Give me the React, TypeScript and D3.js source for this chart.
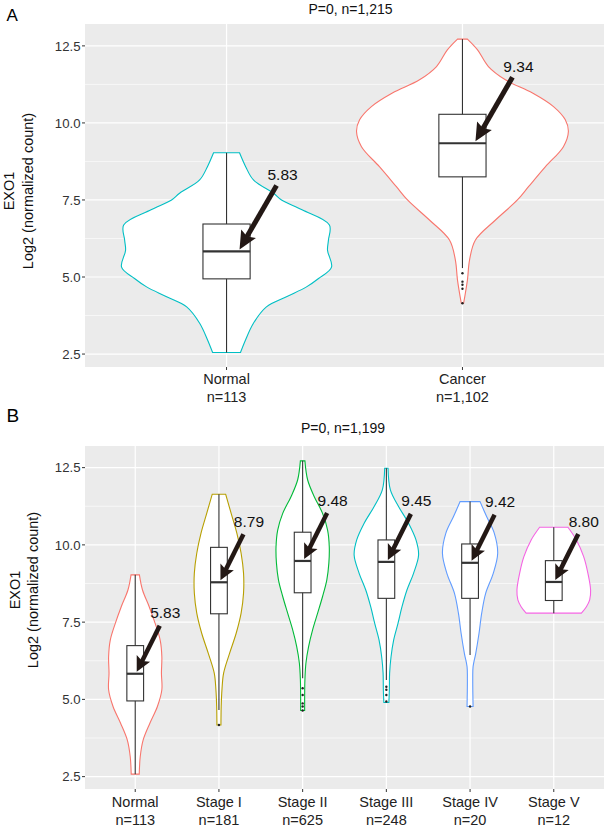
import React from "react";
import * as d3 from "d3";

// ---------- Panel A data ----------
const TOP_CATEGORIES = ["Normal", "Cancer"];
const TOP_COUNTS = ["n=113", "n=1,102"];
const TOP_COLORS = ["#00BFC4", "#F8766D"];
const TOP_MEDIANS = [5.83, 9.34];
const TOP_Q1 = [4.94, 8.25];
const TOP_Q3 = [6.72, 10.28];
const TOP_LOWER = [2.55, 5.29];
const TOP_UPPER = [9.03, 12.72];
const TOP_OUTLIERS: number[][] = [[], [5.12, 4.85, 4.75, 4.62, 4.15]];
// [value, half width as fraction of category step]
const TOP_VIOLIN_NORMAL: [number, number][] = [
  [9.03, 0.055], [8.58, 0.081], [8.15, 0.114], [7.72, 0.199], [7.5, 0.233],
  [7.18, 0.32], [6.69, 0.436], [6.2, 0.432], [5.87, 0.428], [5.32, 0.445],
  [4.95, 0.39], [4.68, 0.339], [4.36, 0.254], [4.03, 0.169], [3.5, 0.114],
  [2.95, 0.08], [2.55, 0.059],
];
const TOP_VIOLIN_CANCER: [number, number][] = [
  [12.72, 0.021], [12.37, 0.064], [11.83, 0.11], [11.4, 0.182], [10.97, 0.297],
  [10.53, 0.386], [10.1, 0.436], [9.72, 0.449], [9.23, 0.428], [8.58, 0.352],
  [7.93, 0.28], [7.5, 0.233], [6.85, 0.14], [6.2, 0.055], [5.55, 0.03],
  [4.9, 0.021], [4.15, 0.005],
];
const TOP_VIOLINS = [TOP_VIOLIN_NORMAL, TOP_VIOLIN_CANCER];

// ---------- Panel B data ----------
const BOT_CATEGORIES = ["Normal", "Stage I", "Stage II", "Stage III", "Stage IV", "Stage V"];
const BOT_COUNTS = ["n=113", "n=181", "n=625", "n=248", "n=20", "n=12"];
const BOT_COLORS = ["#F8766D", "#B79F00", "#00BA38", "#00BFC4", "#619CFF", "#F564E3"];
const BOT_MEDIANS = [5.83, 8.79, 9.48, 9.45, 9.42, 8.8];
const BOT_Q1 = [4.95, 7.77, 8.45, 8.27, 8.27, 8.2];
const BOT_Q3 = [6.74, 9.92, 10.41, 10.16, 10.03, 9.49];
const BOT_LOWER = [2.58, 4.66, 5.68, 5.63, 6.44, 7.79];
const BOT_UPPER = [9.03, 11.64, 12.72, 12.48, 11.4, 10.57];
const BOT_OUTLIERS: number[][] = [
  [], [4.17], [5.36, 5.14, 4.87, 4.77, 4.64], [5.41, 5.31, 5.14, 4.93], [4.77], [],
];
const BOT_VIOLIN_NORMAL: [number, number][] = [
  [9.03, 0.05], [8.54, 0.087], [8.0, 0.167], [7.46, 0.238], [6.92, 0.298],
  [6.38, 0.318], [5.85, 0.313], [5.31, 0.318], [4.77, 0.265], [4.23, 0.175],
  [3.69, 0.095], [3.15, 0.06], [2.58, 0.048],
];
const BOT_VIOLIN_STAGE1: [number, number][] = [
  [11.64, 0.08], [11.02, 0.146], [10.38, 0.214], [9.73, 0.265], [9.08, 0.294],
  [8.44, 0.294], [7.79, 0.265], [7.14, 0.206], [6.49, 0.127], [5.85, 0.056],
  [5.31, 0.036], [4.77, 0.027], [4.17, 0.024],
];
const BOT_VIOLIN_STAGE2: [number, number][] = [
  [12.72, 0.027], [12.1, 0.06], [11.56, 0.139], [11.02, 0.238], [10.48, 0.298],
  [9.94, 0.318], [9.41, 0.313], [8.87, 0.289], [8.33, 0.238], [7.79, 0.179],
  [7.25, 0.119], [6.71, 0.071], [6.17, 0.039], [5.63, 0.027], [5.09, 0.024],
  [4.64, 0.024],
];
const BOT_VIOLIN_STAGE3: [number, number][] = [
  [12.48, 0.02], [11.78, 0.048], [11.24, 0.146], [10.7, 0.265], [10.16, 0.354],
  [9.67, 0.385], [9.08, 0.325], [8.54, 0.246], [8.0, 0.187], [7.46, 0.139],
  [6.92, 0.087], [6.38, 0.056], [5.85, 0.039], [5.31, 0.036], [4.9, 0.03],
];
const BOT_VIOLIN_STAGE4: [number, number][] = [
  [11.4, 0.119], [10.91, 0.199], [10.38, 0.289], [9.73, 0.33], [9.08, 0.277],
  [8.44, 0.187], [7.79, 0.139], [7.14, 0.107], [6.49, 0.068], [6.06, 0.036],
  [5.63, 0.032], [4.77, 0.036],
];
const BOT_VIOLIN_STAGE5: [number, number][] = [
  [10.57, 0.169], [10.16, 0.27], [9.62, 0.357], [9.08, 0.408], [8.54, 0.44],
  [8.22, 0.429], [8.0, 0.39], [7.79, 0.33],
];
const BOT_VIOLINS = [
  BOT_VIOLIN_NORMAL, BOT_VIOLIN_STAGE1, BOT_VIOLIN_STAGE2,
  BOT_VIOLIN_STAGE3, BOT_VIOLIN_STAGE4, BOT_VIOLIN_STAGE5,
];

// ---------- axes ----------
const Y_MAJOR = [2.5, 5, 7.5, 10, 12.5];
const Y_MAJOR_LABELS = ["2.5", "5.0", "7.5", "10.0", "12.5"];
const Y_MINOR = [3.75, 6.25, 8.75, 11.25];

const FONT = "'Liberation Sans', Arial, Helvetica, sans-serif";
const ARROW_COLOR = "#231815";
const BOX_COLOR = "#333333";

type PanelProps = {
  cats: string[]; counts: string[]; colors: string[];
  med: number[]; q1: number[]; q3: number[]; lo: number[]; hi: number[];
  outs: number[][]; violins: [number, number][][];
  top: number; bottom: number; domain: [number, number];
  title: string; titleX: number; titleY: number;
  letter: string; letterY: number; letterSize: number;
  yt1X: number; yt2X: number; ytCY: number;
  xl1Y: number; xl2Y: number;
  arrow: { tipDx: number; tipDy: number; tailDx: number; tailDy: number; labDx: number; labDy: number; headLen: number; headHalf: number; width: number };
};

function Panel(p: PanelProps) {
  const left = 85, right = 604;
  const x = d3.scalePoint<string>().domain(p.cats).range([left, right]).padding(0.6);
  const step = x.step();
  const y = d3.scaleLinear().domain(p.domain).range([p.bottom, p.top]);
  const a = p.arrow;

  return (
    <g>
      <rect x={left} y={p.top} width={right - left} height={p.bottom - p.top} fill="#EBEBEB" />
      {Y_MINOR.map((v) => (
        <line key={"mi" + v} x1={left} x2={right} y1={y(v)} y2={y(v)} stroke="#fff" strokeWidth={0.6} />
      ))}
      {Y_MAJOR.map((v) => (
        <line key={"ma" + v} x1={left} x2={right} y1={y(v)} y2={y(v)} stroke="#fff" strokeWidth={1.2} />
      ))}
      {p.cats.map((c) => (
        <line key={"vg" + c} x1={x(c)} x2={x(c)} y1={p.top} y2={p.bottom} stroke="#fff" strokeWidth={1.2} />
      ))}
      {p.cats.map((c, i) => {
        const cx = x(c)!;
        const area = d3
          .area<[number, number]>()
          .y((d) => y(d[0]))
          .x0((d) => cx - d[1] * step)
          .x1((d) => cx + d[1] * step)
          .curve(d3.curveCatmullRom.alpha(0.5));
        return (
          <path key={"vi" + c} d={area(p.violins[i]) || ""} fill="#fff" stroke={p.colors[i]} strokeWidth={1.1} />
        );
      })}
      {p.cats.map((c, i) => {
        const cx = x(c)!;
        const hw = step * 0.1;
        return (
          <g key={"bx" + c}>
            <line x1={cx} x2={cx} y1={y(p.lo[i])} y2={y(p.hi[i])} stroke={BOX_COLOR} strokeWidth={1.1} />
            <rect x={cx - hw} y={y(p.q3[i])} width={hw * 2} height={y(p.q1[i]) - y(p.q3[i])} fill="#fff" stroke={BOX_COLOR} strokeWidth={1.1} />
            <line x1={cx - hw} x2={cx + hw} y1={y(p.med[i])} y2={y(p.med[i])} stroke={BOX_COLOR} strokeWidth={2.2} />
            {p.outs[i].map((v, j) => (
              <circle key={j} cx={cx} cy={y(v)} r={1.2} fill="#222" />
            ))}
          </g>
        );
      })}
      {p.cats.map((c, i) => {
        const cx = x(c)!;
        const my = y(p.med[i]);
        const tipX = cx + a.tipDx, tipY = my + a.tipDy;
        const tailX = cx + a.tailDx, tailY = my + a.tailDy;
        const dx = tipX - tailX, dy = tipY - tailY;
        const len = Math.hypot(dx, dy);
        const ux = dx / len, uy = dy / len;
        const bx = tipX - ux * a.headLen, by = tipY - uy * a.headLen;
        const px = -uy, py = ux;
        const head = `M${tipX},${tipY}L${bx + px * a.headHalf},${by + py * a.headHalf}L${bx + ux * 3},${by + uy * 3}L${bx - px * a.headHalf},${by - py * a.headHalf}Z`;
        return (
          <g key={"ar" + c}>
            <line x1={tailX} y1={tailY} x2={bx + ux * 4} y2={by + uy * 4} stroke={ARROW_COLOR} strokeWidth={a.width} />
            <path d={head} fill={ARROW_COLOR} />
            <text x={cx + a.labDx} y={my + a.labDy} dy="0.36em" textAnchor="middle" fontSize={15.5} fill="#111" fontFamily={FONT}>
              {p.med[i].toFixed(2)}
            </text>
          </g>
        );
      })}
      {/* y axis */}
      {Y_MAJOR.map((v, i) => (
        <g key={"yt" + v}>
          <line x1={left - 3} x2={left} y1={y(v)} y2={y(v)} stroke="#333" strokeWidth={1} />
          <text x={left - 4.5} y={y(v)} dy="0.36em" textAnchor="end" fontSize={13.2} fill="#333" fontFamily={FONT}>
            {Y_MAJOR_LABELS[i]}
          </text>
        </g>
      ))}
      {/* x axis */}
      {p.cats.map((c, i) => (
        <g key={"xt" + c}>
          <line x1={x(c)} x2={x(c)} y1={p.bottom} y2={p.bottom + 3} stroke="#333" strokeWidth={1} />
          <text x={x(c)} y={p.xl1Y} textAnchor="middle" fontSize={14.5} fill="#222" fontFamily={FONT}>{c}</text>
          <text x={x(c)} y={p.xl2Y} textAnchor="middle" fontSize={14.5} fill="#222" fontFamily={FONT}>{p.counts[i]}</text>
        </g>
      ))}
      <text transform={`translate(${p.yt1X},${p.ytCY}) rotate(-90)`} textAnchor="middle" fontSize={14.5} fill="#111" fontFamily={FONT}>EXO1</text>
      <text transform={`translate(${p.yt2X},${p.ytCY}) rotate(-90)`} textAnchor="middle" fontSize={14.5} fill="#111" fontFamily={FONT}>Log2 (normalized count)</text>
      <text x={p.titleX} y={p.titleY} textAnchor="middle" fontSize={14} fill="#111" fontFamily={FONT}>{p.title}</text>
      <text x={6.5} y={p.letterY} fontSize={p.letterSize} fill="#000" fontFamily={FONT}>{p.letter}</text>
    </g>
  );
}

export default function App() {
  return (
    <svg width={604} height={828} style={{ position: "absolute", left: 0, top: 0, background: "#fff" }}>
      <rect width={604} height={828} fill="#fff" />
      <Panel
        cats={TOP_CATEGORIES} counts={TOP_COUNTS} colors={TOP_COLORS}
        med={TOP_MEDIANS} q1={TOP_Q1} q3={TOP_Q3} lo={TOP_LOWER} hi={TOP_UPPER}
        outs={TOP_OUTLIERS} violins={TOP_VIOLINS}
        top={24} bottom={367} domain={[2.08, 13.21]}
        title="P=0, n=1,215" titleX={350.5} titleY={14}
        letter="A" letterY={20.7} letterSize={17}
        yt1X={13.5} yt2X={32.5} ytCY={191}
        xl1Y={384} xl2Y={402}
        arrow={{ tipDx: 13, tipDy: -2, tailDx: 50, tailDy: -66, labDx: 56, labDy: -77, headLen: 18, headHalf: 8.5, width: 5 }}
      />
      <Panel
        cats={BOT_CATEGORIES} counts={BOT_COUNTS} colors={BOT_COLORS}
        med={BOT_MEDIANS} q1={BOT_Q1} q3={BOT_Q3} lo={BOT_LOWER} hi={BOT_UPPER}
        outs={BOT_OUTLIERS} violins={BOT_VIOLINS}
        top={446} bottom={789} domain={[2.1, 13.2]}
        title="P=0, n=1,199" titleX={343} titleY={433.3}
        letter="B" letterY={422.3} letterSize={19}
        yt1X={19.5} yt2X={37.5} ytCY={590}
        xl1Y={807} xl2Y={825}
        arrow={{ tipDx: 1.5, tipDy: -2, tailDx: 24.5, tailDy: -48, labDx: 30, labDy: -61, headLen: 15, headHalf: 7.5, width: 4.5 }}
      />
    </svg>
  );
}
